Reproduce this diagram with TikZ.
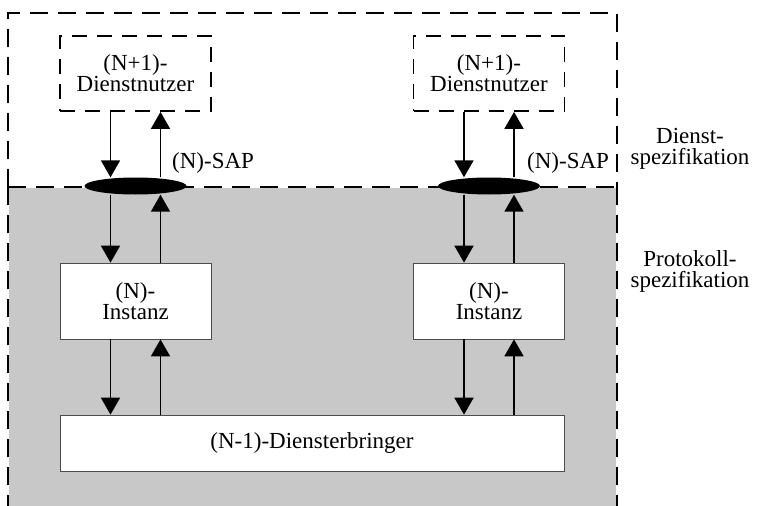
\documentclass[tikz,border=0pt]{standalone}
\usepackage{fontspec}
\setmainfont{Liberation Serif}
\usetikzlibrary{arrows.meta,shapes.geometric,positioning}
\definecolor{schicht}{RGB}{200,200,200}

\tikzset{
  lbl/.style={font=\fontsize{23}{21}\selectfont, align=center, inner sep=0pt},
  frame/.style={line width=1.8pt, dash pattern=on 18pt off 10pt},
  userbox/.style={lbl, draw, line width=1.8pt, dash pattern=on 15pt off 10pt,
    minimum width=151pt, minimum height=75pt},
  instbox/.style={lbl, draw=black!70, fill=white, line width=0.7pt,
    minimum width=151pt, minimum height=76pt},
  sap/.style={ellipse, fill=black, minimum width=102pt, minimum height=17pt, inner sep=0pt},
  arr/.style={line width=1.8pt, -{Triangle[width=19pt,length=17pt]}}
}

\begin{document}
\begin{tikzpicture}[x=1pt,y=-1pt]
\useasboundingbox (0,0) rectangle (758,506);
% Protokollbereich
\fill [schicht] (9,188) rectangle (616,506);
\draw [frame] (8,187) -- (8,13) -- (617,13) -- (617,187);
\draw [frame] (8,187) -- (617,187);
\draw [frame] (8,187) -- (8,506);
\draw [frame] (617,187) -- (617,506);

% linke Seite
\node [userbox] (userL) at (135.5,73.5) {(N+1)-\\Dienstnutzer};
\node [sap] (sapL) at (135.5,186) {};
\node [instbox] (instL) at (135.5,301) {(N)-\\Instanz};
% rechte Seite
\node [userbox] (userR) at (489,73.5) {(N+1)-\\Dienstnutzer};
\node [sap] (sapR) at (489,186) {};
\node [instbox] (instR) at (489,301) {(N)-\\Instanz};

\node [lbl, anchor=west] (sapLtxt) at (172,163) {(N)-SAP};
\node [lbl, anchor=west] (sapRtxt) at (527,163) {(N)-SAP};

\node [lbl, draw=black!70, fill=white, line width=0.7pt,
  minimum width=504pt, minimum height=56pt] (erbr) at (312,443) {(N-1)-Diensterbringer};

\node [lbl] (dspec) at (690,149) {Dienst-\\spezifikation};
\node [lbl] (pspec) at (690,271) {Protokoll-\\spezifikation};

% Pfeile
\foreach \s in {L,R}{
  \draw [arr] ([xshift=-25pt]user\s.south) -- ([xshift=-25pt]user\s.south |- sap\s.north);
  \draw [arr] ([xshift=25pt]user\s.south |- sap\s.north) -- ([xshift=25pt]user\s.south);
  \draw [arr] ([xshift=-25pt]sap\s.south) -- ([xshift=-25pt]inst\s.north);
  \draw [arr] ([xshift=25pt]inst\s.north) -- ([xshift=25pt]sap\s.south);
  \draw [arr] ([xshift=-25pt]inst\s.south) -- ([xshift=-25pt]inst\s.south |- erbr.north);
  \draw [arr] ([xshift=25pt]inst\s.south |- erbr.north) -- ([xshift=25pt]inst\s.south);
}
\end{tikzpicture}
\end{document}
